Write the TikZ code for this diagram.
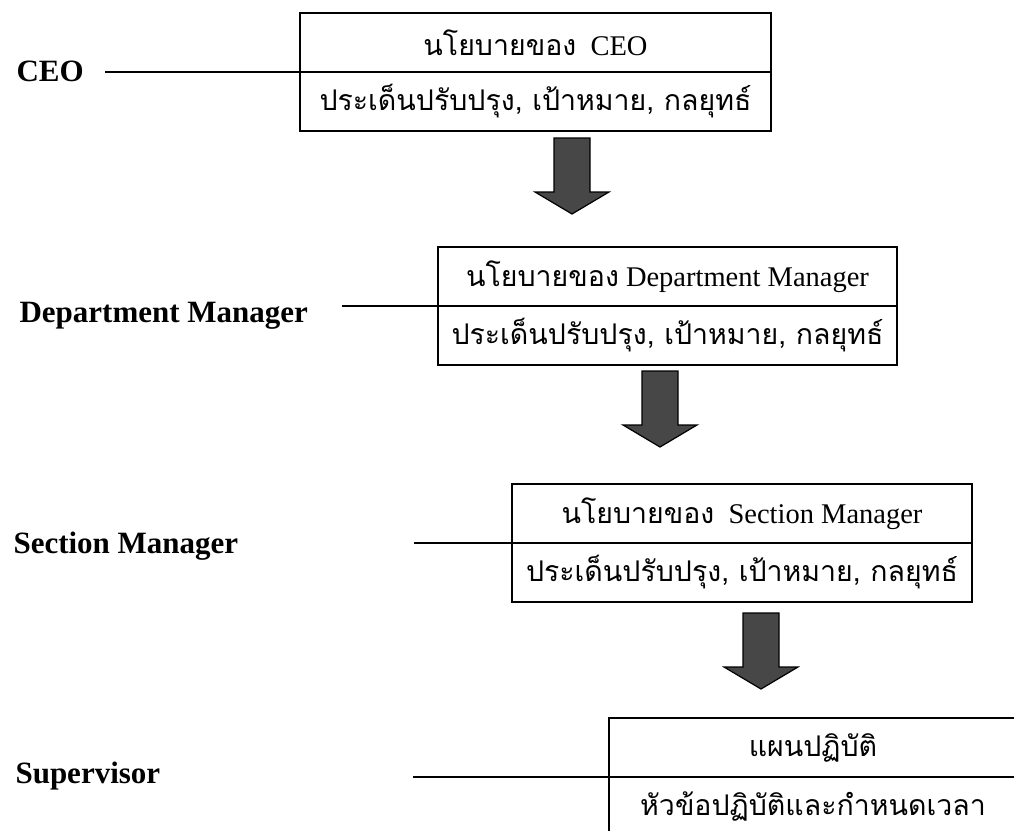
\documentclass[tikz,border=0pt]{standalone}
\usepackage{fontspec}
\setmainfont{Liberation Serif}
\newfontfamily\thaifont[Script=Thai]{Loma}
\usetikzlibrary{positioning}
\newcommand{\thtxt}[1]{{\thaifont #1}}
\tikzset{
  lvl/.style={anchor=base west, font=\fontsize{31}{35}\selectfont\bfseries},
  cell/.style={draw, line width=1.4pt, inner sep=0pt, outer sep=0pt, minimum height=59pt, font=\fontsize{28.5}{32}\selectfont},
  lvline/.style={line width=1.7pt},
  downarr/.pic={\filldraw[fill=black!72, draw=black, line width=1.2pt]
      (-18,0) -- (18,0) -- (18,54) -- (37,54) -- (0,76) -- (-37,54) -- (-18,54) -- cycle;},
}

\begin{document}
\begin{tikzpicture}[x=1pt, y=-1pt]
  \useasboundingbox (0,0) rectangle (1014,830);
  \clip (0,0) rectangle (1014,830);
  \node[cell, minimum width=471pt] (ceoTop) at (535.5,42.5) {\thtxt{นโยบายของ}\ \ CEO};
  \node[cell, minimum width=471pt, below=0pt of ceoTop] (ceoBot) {\thtxt{ประเด็นปรับปรุง, เป้าหมาย, กลยุทธ์}};
  \node[cell, minimum width=459pt] (deptTop) at (667.5,276.5) {\thtxt{นโยบายของ} Department Manager};
  \node[cell, minimum width=459pt, below=0pt of deptTop] (deptBot) {\thtxt{ประเด็นปรับปรุง, เป้าหมาย, กลยุทธ์}};
  \node[cell, minimum width=460pt] (secTop) at (742,513.5) {\thtxt{นโยบายของ}\ \ Section Manager};
  \node[cell, minimum width=460pt, below=0pt of secTop] (secBot) {\thtxt{ประเด็นปรับปรุง, เป้าหมาย, กลยุทธ์}};
  \node[cell, minimum width=408pt] (supTop) at (813,747.5) {\thtxt{แผนปฏิบัติ}};
  \node[cell, minimum width=408pt, below=0pt of supTop] (supBot) {\thtxt{หัวข้อปฏิบัติและกำหนดเวลา}};
  \node[lvl] (lceo) at (13,81) {CEO};
  \node[lvl] (ldept) at (16,322) {Department Manager};
  \node[lvl] (lsec) at (10,553) {Section Manager};
  \node[lvl] (lsup) at (12,783) {Supervisor};
  \coordinate (sceo) at (105,72);
  \coordinate (sdept) at (342,306);
  \coordinate (ssec) at (414,543);
  \coordinate (ssup) at (413,777);
  \draw[lvline] (sceo) -- (ceoTop.south west);
  \draw[lvline] (sdept) -- (deptTop.south west);
  \draw[lvline] (ssec) -- (secTop.south west);
  \draw[lvline] (ssup) -- (supTop.south west);
  \path (ceoBot.south) ++(36.5,7) pic {downarr};
  \path (deptBot.south) ++(-7.5,6) pic {downarr};
  \path (secBot.south) ++(19,11) pic {downarr};
\end{tikzpicture}
\end{document}
